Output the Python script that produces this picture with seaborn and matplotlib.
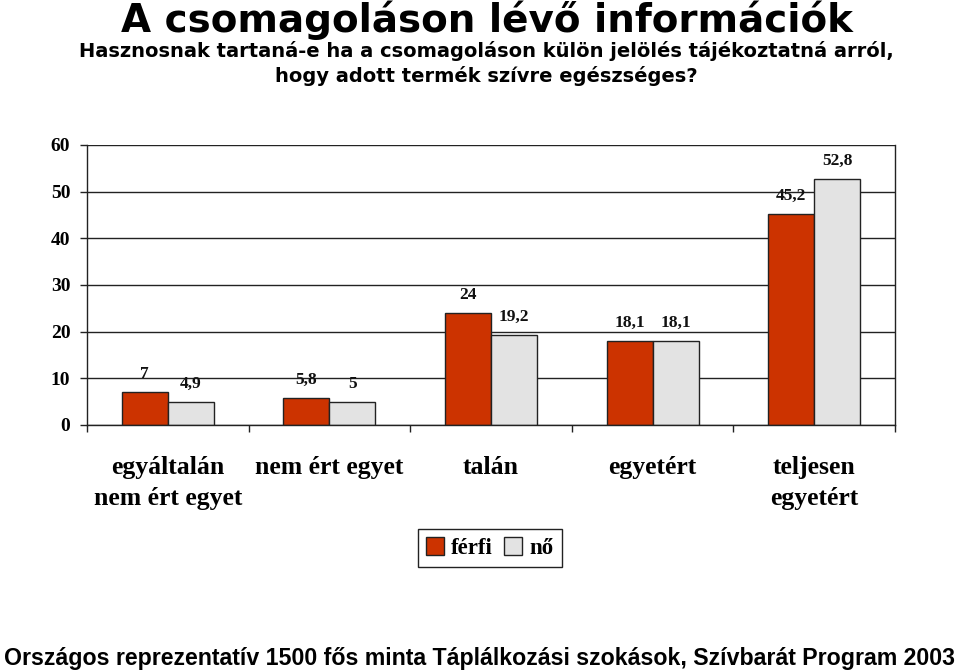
import matplotlib
matplotlib.use("Agg")
import matplotlib.pyplot as plt
import seaborn as sns
import pandas as pd
from matplotlib.patches import Patch

categories = ["egyáltalán\nnem ért egyet", "nem ért egyet", "talán", "egyetért", "teljesen\negyetért"]
ferfi = [7, 5.8, 24, 18.1, 45.2]
no = [4.9, 5, 19.2, 18.1, 52.8]
series = ["férfi", "nő"]
yticks = [0, 10, 20, 30, 40, 50, 60]

title = "A csomagoláson lévő információk"
subtitle1 = "Hasznosnak tartaná-e ha a csomagoláson külön jelölés tájékoztatná arról,"
subtitle2 = "hogy adott termék szívre egészséges?"
footer = "Országos reprezentatív 1500 fős minta Táplálkozási szokások, Szívbarát Program 2003"

colors = {"férfi": "#CC3300", "nő": "#E3E3E3"}

df = pd.DataFrame({
    "cat": categories * 2,
    "series": [series[0]] * len(categories) + [series[1]] * len(categories),
    "value": ferfi + no,
})

sns.set_theme(style="white")
plt.rcParams["font.family"] = ["Liberation Serif", "DejaVu Serif"]
plt.rcParams["text.color"] = "black"

fig = plt.figure(figsize=(9.6, 6.7), dpi=100)
ax = fig.add_axes([0.0906, 0.3657, 0.8417, 0.4179])

sns.barplot(data=df, x="cat", y="value", hue="series", order=categories,
            hue_order=series, palette=colors, width=0.57, gap=0,
            edgecolor="#222222", linewidth=1.0, saturation=1, ax=ax, legend=False)

ax.set_xlim(-0.5, len(categories) - 0.5)
ax.set_ylim(0, 60)
ax.set_yticks(yticks)
ax.set_yticklabels([str(v) for v in yticks], fontsize=14, fontweight="bold")
ax.yaxis.grid(True, color="#222222", linewidth=1.0)
ax.set_axisbelow(True)
ax.set_xlabel("")
ax.set_ylabel("")

ax.set_xticks(range(len(categories)))
ax.set_xticklabels(categories, fontsize=18.5, fontweight="bold", linespacing=1.45)
ax.set_xticks([i - 0.5 for i in range(len(categories) + 1)], minor=True)
ax.tick_params(axis="x", which="major", length=0, pad=22, labelcolor="black")
ax.tick_params(axis="x", which="minor", length=5, width=1, color="#222222", direction="out", bottom=True)
ax.tick_params(axis="y", which="major", length=5, width=1, color="#222222", direction="out", left=True,
               pad=7, labelcolor="black")

for side in ["left", "bottom", "right"]:
    ax.spines[side].set_visible(True)
    ax.spines[side].set_color("#222222")
    ax.spines[side].set_linewidth(1.0)
ax.spines["top"].set_visible(False)

for container in ax.containers:
    for bar in container:
        h = bar.get_height()
        txt = ("%g" % h).replace(".", ",")
        ax.annotate(txt, (bar.get_x() + bar.get_width() / 2, h), xytext=(0, 13),
                    textcoords="offset points", ha="center", va="center",
                    fontsize=12.5, fontweight="bold", color="#111111")

handles = [Patch(facecolor=colors[s], edgecolor="#222222", label=s) for s in series]
leg = fig.legend(handles=handles, loc="center", bbox_to_anchor=(0.510, 0.182), ncol=2,
                 frameon=True, fancybox=False, edgecolor="#222222", framealpha=1,
                 handlelength=0.8, handleheight=0.8, handletextpad=0.3, columnspacing=0.5,
                 borderpad=0.35, prop={"family": "Liberation Serif", "weight": "bold", "size": 16.5})
leg.get_frame().set_linewidth(1.0)
for t in leg.get_texts():
    t.set_color("black")

fig.text(0.507, 1 - 32 / 670, title, ha="center", va="baseline", fontsize=28, fontweight="bold",
         family="DejaVu Sans", color="black")
fig.text(0.507, 1 - 57 / 670, subtitle1, ha="center", va="baseline", fontsize=14, fontweight="bold",
         family="DejaVu Sans", color="black")
fig.text(0.507, 1 - 82 / 670, subtitle2, ha="center", va="baseline", fontsize=14, fontweight="bold",
         family="DejaVu Sans", color="black")
fig.text(0.5, 1 - 665 / 670, footer, ha="center", va="baseline", fontsize=16.7, fontweight="bold",
         family="Liberation Sans", color="black")

fig.savefig("out.png", dpi=100)
